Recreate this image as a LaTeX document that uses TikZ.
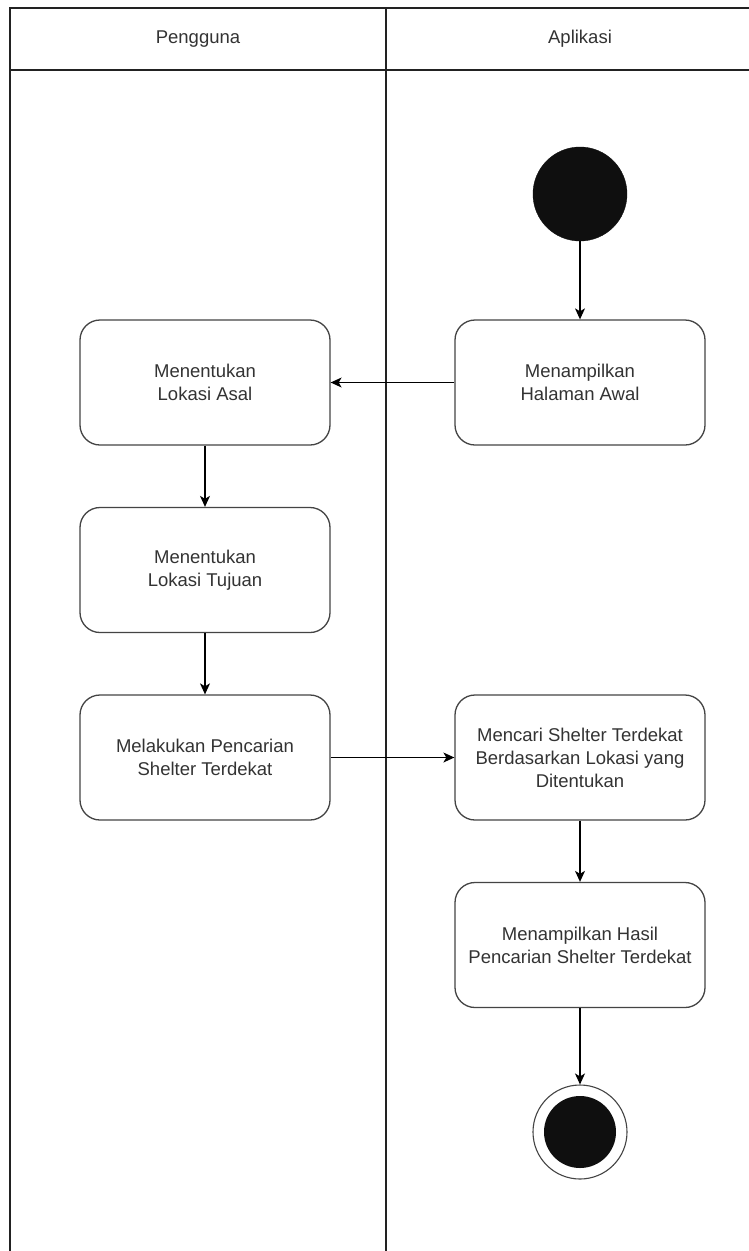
\documentclass[tikz,border=0pt]{standalone}
\usepackage{fontspec}
\setmainfont{Liberation Sans}
\usetikzlibrary{arrows.meta}
\definecolor{inkline}{HTML}{222222}
\definecolor{boxline}{HTML}{444444}
\definecolor{textgray}{HTML}{333333}
\definecolor{dotfill}{HTML}{0F0F0F}
\begin{document}
\begin{tikzpicture}[x=1pt,y=-1pt,
  lane/.style={draw=inkline,line width=1.3pt},
  lanetitle/.style={text=textgray,font=\fontsize{18.5}{23}\selectfont},
  activity/.style={draw=boxline,line width=1.3pt,fill=white,rounded corners=20pt,
    minimum width=250pt,minimum height=125pt,align=center,inner sep=4pt,
    text=textgray,font=\fontsize{18.5}{23}\selectfont},
  startdot/.style={circle,fill=dotfill,draw=dotfill,minimum size=94pt,inner sep=0pt},
  endring/.style={circle,draw=boxline,line width=1.1pt,fill=white,minimum size=94pt,inner sep=0pt},
  enddot/.style={circle,fill=dotfill,minimum size=72pt,inner sep=0pt},
  flow/.style={draw=black,line width=1.2pt,-{Stealth[length=11pt,width=10pt,inset=3pt]}}
]
\useasboundingbox (0,0) rectangle (749,1251);
\fill[white] (0,0) rectangle (749,1251);

% swimlane frame
\draw[lane] (10,1260) -- (10,8) -- (760,8);
\draw[lane] (10,70) -- (760,70);
\draw[lane] (386,8) -- (386,1260);
\node[lanetitle] (lanea) at (198,39) {Pengguna};
\node[lanetitle] (laneb) at (580,39) {Aplikasi};

% activities
\node[startdot] (start) at (580,194) {};
\node[activity] (awal) at (580,382.5) {Menampilkan\\Halaman Awal};
\node[activity] (asal) at (205,382.5) {Menentukan\\Lokasi Asal};
\node[activity] (tujuan) at (205,570) {Menentukan\\Lokasi Tujuan};
\node[activity] (cari) at (205,757.5) {Melakukan Pencarian\\Shelter Terdekat};
\node[activity] (proses) at (580,757.5) {Mencari Shelter Terdekat\\Berdasarkan Lokasi yang\\Ditentukan};
\node[activity] (hasil) at (580,945) {Menampilkan Hasil\\Pencarian Shelter Terdekat};
\node[endring] (stop) at (580,1132) {};
\node[enddot] (stopdot) at (stop) {};

% transitions
\draw[flow] (start) -- (awal);
\draw[flow] (awal) -- (asal);
\draw[flow] (asal) -- (tujuan);
\draw[flow] (tujuan) -- (cari);
\draw[flow] (cari) -- (proses);
\draw[flow] (proses) -- (hasil);
\draw[flow] (hasil) -- (stop);
\end{tikzpicture}
\end{document}
